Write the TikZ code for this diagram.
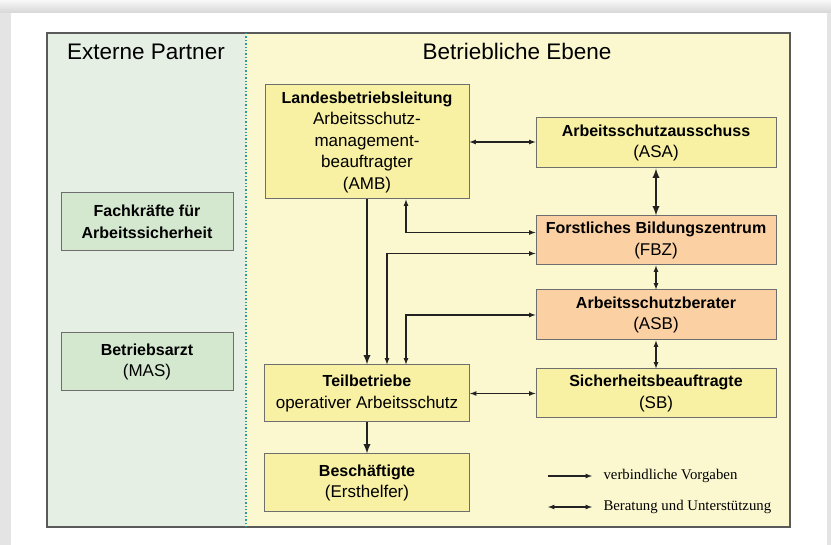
\documentclass[tikz,border=0pt]{standalone}
\usepackage{fontspec}
\setmainfont{Liberation Sans}
\newfontfamily\legendfont{Liberation Serif}
\usetikzlibrary{positioning}
\definecolor{pagegray}{HTML}{E4E4E4}
\definecolor{framegray}{HTML}{5A5A5A}
\definecolor{boxline}{HTML}{6E6E6E}
\definecolor{extgreen}{HTML}{E6EFE3}
\definecolor{betrieb}{HTML}{FBF8D0}
\definecolor{boxyellow}{HTML}{F8F0A2}
\definecolor{boxorange}{HTML}{FBD0A2}
\definecolor{boxgreen}{HTML}{D4E8D0}
\definecolor{divider}{HTML}{2A9D9A}
\definecolor{arrowblack}{HTML}{222222}
\newcommand{\boxhead}[1]{{\fontsize{16}{21.5}\selectfont\bfseries #1}}
\begin{document}
\begin{tikzpicture}[x=1pt,y=-1pt,>=latex,
  box/.style={draw=boxline,line width=1pt,align=center,inner sep=0pt,
    font=\fontsize{17}{21.5}\selectfont},
  yellowbox/.style={box,fill=boxyellow},
  orangebox/.style={box,fill=boxorange},
  greenbox/.style={box,fill=boxgreen},
  head/.style={anchor=base,font=\fontsize{22.5}{26}\selectfont},
  legend/.style={anchor=west,font=\legendfont\fontsize{14.8}{17}\selectfont},
  conn/.style={draw=arrowblack,line width=1.2pt},
  thickconn/.style={draw=arrowblack,line width=2.2pt}]
\useasboundingbox (0,0) rectangle (831,545);
% page and card
\fill[pagegray] (0,0) rectangle (831,545);
\shade[top color=white!97!black,bottom color=white!84!black] (0,0) rectangle (831,13);
\fill[white] (11,13) rectangle (827,545);
% the two areas
\fill[extgreen] (47,33) rectangle (246,527);
\fill[betrieb] (246,33) rectangle (790,527);
\draw[framegray,line width=1.5pt] (47,33) rectangle (790,527);
\draw[divider,dotted,line width=1.4pt] (246,33) -- (246,527);
\node[head] (ext) at (146,60) {Externe Partner};
\node[head] (betr) at (517,60) {Betriebliche Ebene};
% externe Partner
\node[greenbox,minimum width=172pt,minimum height=58pt] (fasi) at (147,222)
  {\boxhead{Fachkräfte für}\\\boxhead{Arbeitssicherheit}};
\node[greenbox,minimum width=172pt,minimum height=58pt] (arzt) at (147,362)
  {\boxhead{Betriebsarzt}\\(MAS)};
% betriebliche Ebene
\node[yellowbox,minimum width=204pt,minimum height=114pt] (amb) at (367,142)
  {\boxhead{Landesbetriebsleitung}\\Arbeitsschutz-\\management-\\beauftragter\\(AMB)};
\node[yellowbox,minimum width=240pt,minimum height=50pt] (asa) at (656,143)
  {\boxhead{Arbeitsschutzausschuss}\\(ASA)};
\node[orangebox,minimum width=240pt,minimum height=49pt] (fbz) at (656,240.5)
  {\boxhead{Forstliches Bildungszentrum}\\(FBZ)};
\node[orangebox,minimum width=240pt,minimum height=50pt] (asb) at (656,315)
  {\boxhead{Arbeitsschutzberater}\\(ASB)};
\node[yellowbox,minimum width=240pt,minimum height=49pt] (sb) at (656,393.5)
  {\boxhead{Sicherheitsbeauftragte}\\(SB)};
\node[yellowbox,minimum width=205pt,minimum height=57pt] (teil) at (367,393.5)
  {\boxhead{Teilbetriebe}\\operativer Arbeitsschutz};
\node[yellowbox,minimum width=205pt,minimum height=58pt] (besch) at (367,483)
  {\boxhead{Beschäftigte}\\(Ersthelfer)};
% connectors
\draw[conn,<->] (amb.east) -- (amb.east -| asa.west);
\draw[thickconn,<->] (asa.south) -- (fbz.north);
\draw[conn,<->] ([xshift=39pt]amb.south) |- ([yshift=8pt]fbz.west);
\draw[conn,<->] ([xshift=20pt]teil.north) |- ([yshift=-13pt]fbz.west);
\draw[thickconn,->] (amb.south) -- (teil.north);
\draw[conn,<->] ([xshift=39pt]teil.north) |- (asb.west);
\draw[conn,<->] (fbz.south) -- (asb.north);
\draw[conn,<->] (asb.south) -- (sb.north);
\draw[conn,<->] (teil.east) -- (sb.west);
\draw[thickconn,->] (teil.south) -- (besch.north);
% legend
\coordinate (leg1a) at (548,476);
\coordinate (leg1b) at (592,476);
\coordinate (leg2a) at (548,507);
\coordinate (leg2b) at (592,507);
\draw[conn,->] (leg1a) -- (leg1b);
\draw[conn,<->] (leg2a) -- (leg2b);
\node[legend] (leg1) at (600,476) {verbindliche Vorgaben};
\node[legend] (leg2) at (600,507) {Beratung und Unterstützung};
\end{tikzpicture}
\end{document}
